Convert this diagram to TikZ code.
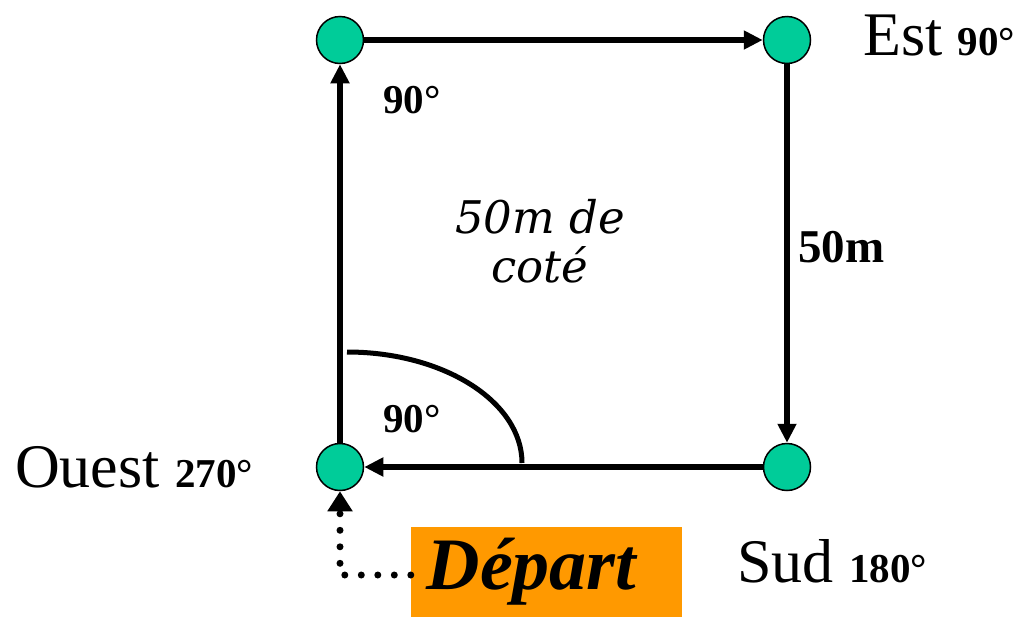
\documentclass[tikz,border=0pt]{standalone}
\usepackage{fontspec}
\setmainfont{Liberation Serif}
\newfontfamily\itfont{DejaVu Serif}
\usetikzlibrary{arrows.meta}
\definecolor{nodegreen}{RGB}{0,204,153}
\definecolor{departorange}{RGB}{255,153,0}
\begin{document}
\begin{tikzpicture}[x=1pt,y=-1pt,
  corner/.style={circle,draw=black,line width=1.5pt,fill=nodegreen,minimum size=47pt,inner sep=0pt},
  arr/.style={line width=6pt,-{Triangle[length=19pt,width=18pt]}},
  dotarr/.style={line width=7pt,line cap=round,dash pattern=on 0pt off 16.5pt,-{Triangle[length=20pt,width=24pt]}},
  lbl/.style={anchor=base west,inner sep=0pt},
  deg/.style={font=\fontsize{41}{41}\selectfont\bfseries}]
\useasboundingbox (0,0) rectangle (1023,619);
% corners
\node[corner] (A) at (340,40) {};
\node[corner] (B) at (787,40) {};
\node[corner] (C) at (787,467) {};
\node[corner] (D) at (340,467) {};
% sides
\draw[arr] (A) -- (B);
\draw[arr] (B) -- (C);
\draw[arr] (C) -- (D);
\draw[arr] (D) -- (A);
% angle arc
\coordinate (arcstart) at (522,463);
\draw[line width=5pt] (arcstart) arc[start angle=0,end angle=90,x radius=175pt,y radius=111pt];
% labels
\node[lbl] (est) at (863,55) {\fontsize{62}{62}\selectfont Est {\fontsize{41}{41}\selectfont\bfseries 90°}};
\node[lbl] (ouest) at (15,487) {\fontsize{62}{62}\selectfont Ouest {\fontsize{41}{41}\selectfont\bfseries 270°}};
\node[lbl] (sud) at (737,582) {\fontsize{62}{62}\selectfont Sud {\fontsize{41}{41}\selectfont\bfseries 180°}};
\node[lbl,deg] (a1) at (383,113) {90°};
\node[lbl,deg] (a2) at (383,432) {90°};
\node[lbl,font=\fontsize{47}{47}\selectfont\bfseries] (len) at (798,262) {50m};
\node[align=center,inner sep=0pt,font=\itfont\itshape\fontsize{45}{49}\selectfont] (side) at (540,241) {50m de\\coté};
% start
\node[rectangle,fill=departorange,minimum width=271pt,minimum height=90pt,inner sep=0pt,
      font=\fontsize{74}{74}\selectfont\bfseries\itshape] (depart) at (546.5,572) {Départ\kern30pt\relax};
\draw[dotarr] ([yshift=-3pt]depart.west) -| (D.south);
\end{tikzpicture}
\end{document}
